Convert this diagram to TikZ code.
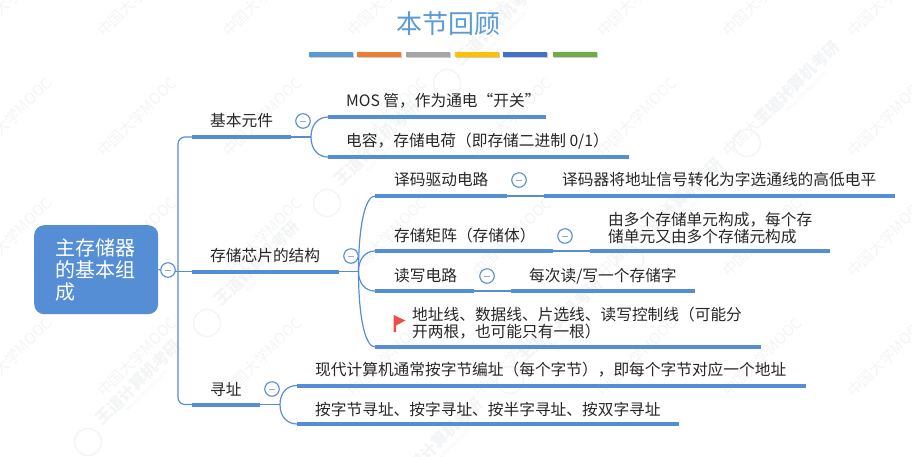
\documentclass[tikz,border=0pt]{standalone}
\usepackage{fontspec}
\setmainfont{Noto Sans CJK SC}
\usetikzlibrary{calc}
\definecolor{mapblue}{HTML}{558ED5}
\definecolor{titleblue}{HTML}{5B9BD5}
\definecolor{wm}{HTML}{F3F4F5}
\definecolor{flagred}{HTML}{F04C4C}
\tikzset{
  txt/.style={anchor=west,inner sep=0pt,font=\fontsize{15.7}{17}\selectfont,text=black!85},
  two/.style={txt,align=left},
  barline/.style={draw=mapblue,line width=4pt},
  thinline/.style={draw=mapblue,line width=1.2pt},
  toggle/.style={circle,draw=mapblue,line width=1.1pt,fill=white,minimum size=14.5pt,inner sep=0pt},
  topbar/.style={minimum width=44pt,minimum height=5pt,inner sep=0pt,anchor=west},
  wmtext/.style={rotate=45,text=wm,inner sep=0pt,font=\fontsize{15}{15}\selectfont},
  wmtextb/.style={rotate=45,text=wm,inner sep=0pt,font=\bfseries\fontsize{16}{16}\selectfont},
  wmurl/.style={rotate=45,text=wm,inner sep=0pt,font=\fontsize{6}{6}\selectfont},
  wmlogo/.style={circle,draw=wm,line width=1.5pt,minimum size=27pt,inner sep=0pt}
}
\newcommand{\tog}[2]{\node[toggle] (#1) at #2 {}; \draw[draw=mapblue!70,line width=1pt] ($(#1.center)+(-3,0)$) -- ($(#1.center)+(3,0)$);}
\begin{document}
\begin{tikzpicture}[x=1pt,y=-1pt]
\useasboundingbox (0,0) rectangle (912,456);
% watermarks
\foreach \i in {0,...,7}{\foreach \j in {0,...,3}{
  \node[wmtext] (w\i\j) at (12+125*\i,-3+120*\j) {中国大学MOOC};
}}
\foreach \a/\b in {138/382,257/263,377/143,497/23,440/440,560/320,680/200,797/83}{
  \node[wmtextb] (wb\a) at (\a,\b) {王道计算机考研};
  \node[wmurl] (wu\a) at (\a+9,\b+9) {www.cskaoyan.com};
  \node[wmlogo] (wl\a) at (\a-50,\b+60) {};
}
% title
\node[inner sep=0pt,text=titleblue,font=\fontsize{26}{26}\selectfont] (title) at (448,24) {本节回顾};
\foreach \n/\x/\c in {a/309/5B9BD5,b/357/ED7D31,c/406/A5A5A5,d/455/FFC000,e/503/4472C4,f/553/70AD47}{
  \definecolor{tmpc}{HTML}{\c}
  \node[topbar,fill=black!20] (s\n) at (\x+.7,55.7) {};
  \node[topbar,fill=tmpc] (t\n) at (\x,54.5) {};
}
% root
\node[anchor=north west,fill=mapblue,rounded corners=10pt,minimum width=124pt,minimum height=89pt,inner sep=0pt] (root) at (34,225) {};
\node[anchor=west,inner sep=0pt,text=white,align=left,font=\fontsize{20}{22}\selectfont] (roottext) at (55,270) {主存储器\\的基本组\\成};
% coordinates of bars
\coordinate (trunkc) at (178,271.5);
\coordinate (a1) at (192,137);   \coordinate (a2) at (291,137);
\coordinate (b1) at (192,271.5); \coordinate (b2) at (339,271.5);
\coordinate (c1) at (192,404.5); \coordinate (c2) at (260,404.5);
\coordinate (fa) at (311,137);
\coordinate (fb) at (358.5,271.5);
\coordinate (fc) at (280,404.5);
\coordinate (a11) at (328,117); \coordinate (a12) at (546,117);
\coordinate (a21) at (328,157); \coordinate (a22) at (629,157);
\coordinate (d11) at (375,196); \coordinate (d12) at (507,196);
\coordinate (d13) at (544,196); \coordinate (d14) at (895,196);
\coordinate (e11) at (375,251); \coordinate (e12) at (553,251);
\coordinate (e13) at (590,251); \coordinate (e14) at (830,251);
\coordinate (g11) at (375,291); \coordinate (g12) at (474,291);
\coordinate (g13) at (511,291); \coordinate (g14) at (695,291);
\coordinate (h1) at (375,347);  \coordinate (h2) at (761,347);
\coordinate (k11) at (297,385.5); \coordinate (k12) at (806,385.5);
\coordinate (k21) at (297,424);   \coordinate (k22) at (679,424);
% connectors
\draw[thinline] (root.east) -- (trunkc);
\draw[thinline,rounded corners=7pt] (a1) -- (178,137) -- (178,404.5) -- (c1);
\draw[thinline] (trunkc) -- (b1);
\draw[thinline] (a2) -- (fa);
\draw[thinline] (b2) -- (fb);
\draw[thinline] (c2) -- (fc);
\foreach \p/\q in {fa/a11,fa/a21,fc/k11,fc/k21,fb/d11,fb/e11,fb/g11,fb/h1}{
  \draw[thinline] (\p) .. controls ($(\p)!0.6!(\p|-\q)$) and ($(\q)!0.6!(\p|-\q)$) .. (\q);
}
\draw[thinline] (d12) -- (d13);
\draw[thinline] (e12) -- (e13);
\draw[thinline] (g12) -- (g13);
% bars
\foreach \p/\q in {a1/a2,b1/b2,c1/c2,a11/a12,a21/a22,d11/d12,d13/d14,e11/e12,e13/e14,g11/g12,g13/g14,h1/h2,k11/k12,k21/k22}{
  \draw[barline] (\p) -- (\q);
}
% toggles
\tog{ta}{(168,270)}
\tog{tb}{(303,121)}
\tog{tc}{(351,256)}
\tog{td}{(272,389)}
\tog{te}{(519,180)}
\tog{tf}{(565,236)}
\tog{tg}{(487,276)}
% texts
\node[txt] (n1) at (210,121) {基本元件};
\node[txt] (n2) at (210,256) {存储芯片的结构};
\node[txt] (n3) at (210,389) {寻址};
\node[txt] (n4) at (346,101) {MOS 管，作为通电“开关”};
\node[txt] (n5) at (346,141) {电容，存储电荷（即存储二进制 0/1）};
\node[txt] (n6) at (394,180) {译码驱动电路};
\node[txt] (n7) at (562,180) {译码器将地址信号转化为字选通线的高低电平};
\node[txt] (n8) at (394,236) {存储矩阵（存储体）};
\node[two] (n9) at (608,228) {由多个存储单元构成，每个存\\储单元又由多个存储元构成};
\node[txt] (n10) at (394,276) {读写电路};
\node[txt] (n11) at (529,276) {每次读/写一个存储字};
\node[two] (n12) at (412,323.5) {地址线、数据线、片选线、读写控制线（可能分\\开两根，也可能只有一根）};
\node[txt] (n13) at (315,370) {现代计算机通常按字节编址（每个字节），即每个字节对应一个地址};
\node[txt] (n14) at (315,409) {按字节寻址、按字寻址、按半字寻址、按双字寻址};
% flag
\fill[flagred] (393.5,315) -- (405.5,320.5) -- (396,325.5) -- (396,332) -- (393.5,332) -- cycle;
\end{tikzpicture}
\end{document}
